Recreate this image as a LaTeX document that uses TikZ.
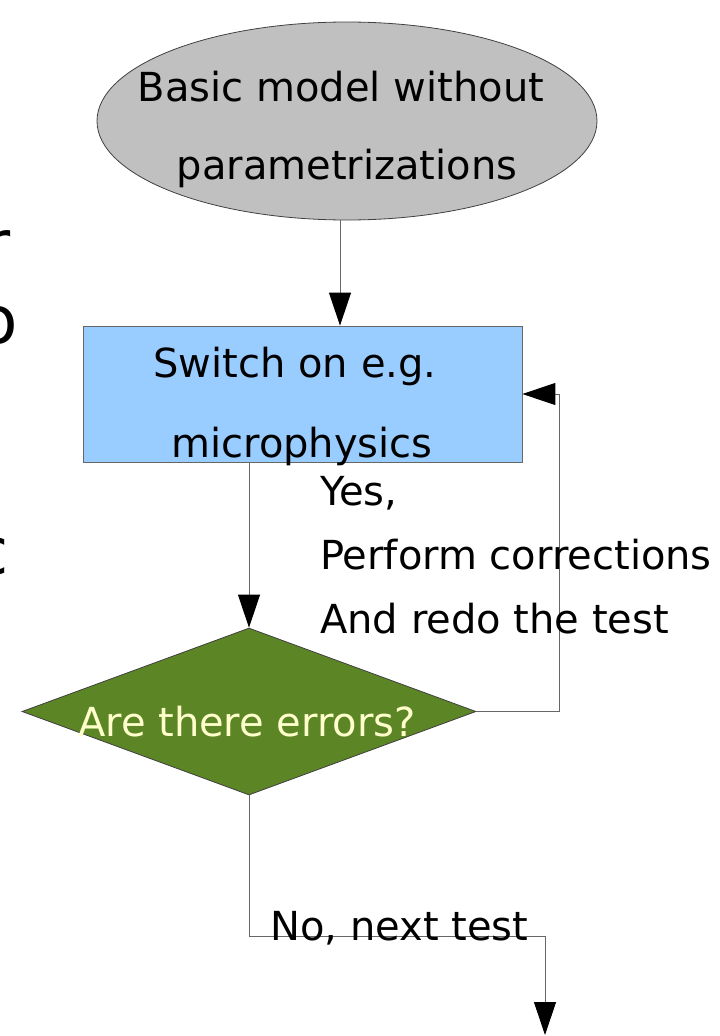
\documentclass[tikz,border=0pt]{standalone}
\usepackage{fontspec}
\setmainfont{DejaVu Sans}
\usetikzlibrary{shapes.geometric,arrows.meta}

\definecolor{startgray}{HTML}{C0C0C0}
\definecolor{stepblue}{HTML}{99CCFF}
\definecolor{testgreen}{HTML}{5C8526}
\definecolor{testtext}{HTML}{FFFFCC}
\definecolor{wire}{HTML}{666666}

\tikzset{
  txt/.style={inner sep=0pt, font=\fontsize{40}{48}\selectfont},
  bigtxt/.style={inner sep=0pt, anchor=base east, font=\fontsize{66}{80}\selectfont},
  shapeline/.style={draw=black!75, line width=0.8pt},
  flow/.style={draw=wire, line width=1pt,
    -{Triangle[width=22pt,length=33pt,color=black,fill=black]}},
}

\begin{document}
\begin{tikzpicture}[x=1pt,y=-1pt]
  \useasboundingbox (0,0) rectangle (720,1036);
  \clip (0,0) rectangle (720,1036);

  % letters of a larger text cut by the left edge
  \node[bigtxt] (cutr) at (11,267) {r};
  \node[bigtxt] (cuto) at (17.6,343) {o};
  \node[bigtxt] (cutc) at (8.5,574) {c};

  % shapes
  \node[shapeline, fill=startgray, ellipse, inner sep=0pt,
        minimum width=500pt, minimum height=198pt] (start) at (347,121) {};
  \node[shapeline, draw=black!60, fill=stepblue, rectangle, inner sep=0pt,
        minimum width=439pt, minimum height=136pt] (box) at (302.5,394) {};
  \node[shapeline, fill=testgreen, diamond, inner sep=0pt,
        minimum width=454pt, minimum height=167pt] (dia) at (249,711.5) {};

  % connectors
  \draw[flow] ([xshift=-7pt]start.south) -- ([xshift=-7pt]start.south |- box.north);
  \draw[flow] (box.south -| dia.north) -- (dia.north);
  \draw[flow] (dia.east) -- ++(83,0) |- (box.east);
  \coordinate (next) at (545,1035);
  \draw[flow] (dia.south) -- ++(0,141) -| (next);

  % texts
  \node[txt, anchor=base] (t1) at (341,101) {Basic model without};
  \node[txt, anchor=base] (t2) at (347,179) {parametrizations};
  \node[txt, anchor=base] (t3) at (295,377) {Switch on e.g.};
  \node[txt, anchor=base] (t4) at (302,457) {microphysics};
  \node[txt, anchor=base, text=testtext] (t5) at (247,736) {Are there errors?};
  \node[txt, anchor=base west] (y1) at (320,505) {Yes,};
  \node[txt, anchor=base west] (y2) at (320,569) {Perform corrections};
  \node[txt, anchor=base west] (y3) at (320,633) {And redo the test};
  \node[txt, anchor=base west] (n1) at (270,940) {No, next test};
\end{tikzpicture}
\end{document}
